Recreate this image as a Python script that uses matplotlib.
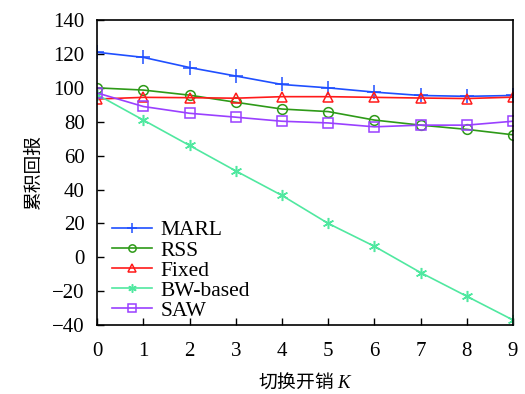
import numpy as np
import matplotlib.pyplot as plt

plt.rcParams['font.family'] = ['Liberation Serif', 'Noto Sans CJK SC']
plt.rcParams['mathtext.fontset'] = 'custom'
plt.rcParams['mathtext.it'] = 'Liberation Serif:italic'

#switching cost K
k = np.arange(10)
marl = [121, 118, 112, 107, 102, 100, 97.5, 95.5, 95, 95.5]
rss = [100, 98.7, 95.7, 91.5, 87.5, 86, 81, 78, 75.5, 72.3]
fixed = [93.4, 94.4, 94.2, 93.9, 94.8, 94.8, 94.4, 94, 93.7, 94.5]
bw = [96, 81, 66, 51, 36.5, 20, 6.5, -9, -23, -37]
saw = [97, 89, 85, 82.7, 80.3, 79.3, 77, 78, 78, 80.3]

fig = plt.figure(figsize=(5.25, 3.94), dpi=100)
ax = fig.add_axes([0.185, 0.175, 0.792, 0.774])

ax.plot(k, marl, '-+', color='#1f4fff', lw=1.2, ms=10, mew=1.1, label='MARL')
ax.plot(k, rss, '-o', color='#2e9a18', lw=1.2, ms=7, mfc='none', mew=1.1, label='RSS')
ax.plot(k, fixed, '-^', color='#ff1a1a', lw=1.2, ms=7.5, mfc='none', mew=1.1, label='Fixed')
ax.plot(k, bw, '-', marker=(6, 2, 0), color='#50e8a0', lw=1.2, ms=8, mew=1.1, label='BW-based')
ax.plot(k, saw, '-s', color='#9a40ff', lw=1.2, ms=7, mfc='none', mew=1.1, label='SAW')

ax.set_xlim(0, 9)
ax.set_ylim(-40, 140)
ax.set_xticks(k)
ax.set_yticks(np.arange(-40, 141, 20))
ax.tick_params(direction='in', labelsize=15, length=5, width=1)
ax.tick_params(axis='y', pad=9)
ax.tick_params(axis='x', pad=12)
for s in ax.spines.values():
    s.set_linewidth(1.2)

ax.set_xlabel('切换开销 $K$', fontsize=13.5, labelpad=8,
              family=['Noto Sans CJK SC', 'Liberation Serif'])
ax.set_ylabel('累积回报', fontsize=13.5, labelpad=6, family=['Noto Sans CJK SC'])

ax.legend(loc='lower left', frameon=False, fontsize=15.5, handlelength=1.85,
          borderaxespad=0.1, borderpad=0.1, labelspacing=0.0, handletextpad=0.4,
          markerscale=0.75, bbox_to_anchor=(0.025, 0.0))

fig.savefig('out.png', dpi=100)
